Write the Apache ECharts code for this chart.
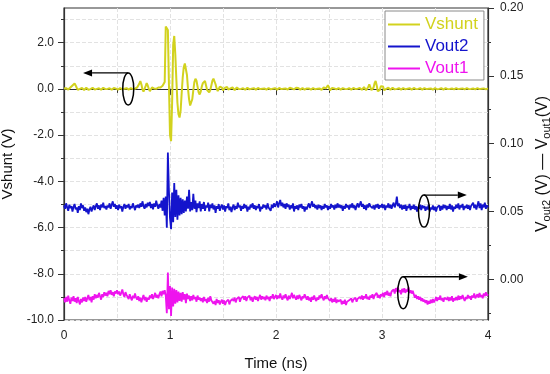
<!DOCTYPE html>
<html><head><meta charset="utf-8">
<script src="https://cdn.jsdelivr.net/npm/echarts@6/dist/echarts.min.js"></script>
<style>html,body{margin:0;padding:0;background:#fff}#c{width:550px;height:374px}</style>
</head><body><div id="c"></div>
<script>
// sampling step of the time axis (ns)
const T_STEP = 0.01;

// Vshunt (V), left axis
const vshunt = [
0.02,0.04,0.03,-0.02,-0.03,0.02,0.06,0.08,0.15,0.22,
0.24,0.15,0.05,-0.04,-0.06,0.00,0.06,0.04,-0.02,-0.05,
0.00,0.05,0.03,-0.04,-0.06,-0.01,0.04,0.05,0.01,-0.03,
-0.04,0.00,0.04,0.03,-0.02,-0.04,0.00,0.05,0.04,-0.01,
-0.03,0.00,0.04,0.03,-0.02,-0.04,-0.01,0.04,0.05,0.01,
-0.03,-0.03,0.01,0.04,0.02,-0.02,-0.03,0.01,0.04,0.03,
-0.01,-0.03,0.00,0.03,0.02,-0.01,-0.02,0.01,0.04,0.06,
0.10,0.22,0.34,0.20,-0.02,-0.12,-0.05,0.12,0.25,0.15,
0.00,-0.10,-0.06,0.06,0.10,0.02,-0.06,0.00,0.08,0.06,
0.02,0.06,0.10,0.14,0.18,0.30,2.70,2.75,2.55,0.20,
-2.00,-2.26,-0.60,1.90,2.29,1.50,0.40,-0.60,-1.10,-1.24,
-0.95,-0.20,0.50,0.95,1.10,1.13,0.60,0.00,-0.45,-0.72,
-0.76,-0.45,-0.05,0.30,0.44,0.35,0.10,-0.15,-0.24,-0.12,
0.10,0.25,0.32,0.34,0.15,-0.05,-0.12,-0.15,-0.05,0.15,
0.35,0.44,0.40,0.20,0.02,-0.10,-0.05,0.10,0.15,0.05,
-0.06,-0.05,0.05,0.12,0.08,-0.03,-0.06,0.02,0.08,0.06,
-0.02,-0.05,0.00,0.06,0.05,-0.01,-0.04,0.00,0.05,0.03,
-0.02,-0.04,0.01,0.05,0.03,-0.02,-0.04,0.01,0.04,0.03,
-0.01,-0.03,0.00,0.04,0.03,-0.01,-0.03,0.01,0.04,0.02,
-0.02,-0.03,0.01,0.04,0.02,-0.02,-0.03,0.01,0.04,0.03,
-0.01,-0.03,0.01,0.04,0.03,-0.01,-0.03,0.01,0.04,0.02,
-0.02,-0.03,0.01,0.05,0.08,0.02,-0.04,-0.02,0.03,0.05,
0.10,0.04,-0.04,-0.03,0.02,0.04,0.01,-0.03,-0.02,0.02,
0.04,0.02,-0.02,-0.03,0.01,0.04,0.02,-0.02,-0.03,0.01,
0.04,0.02,-0.02,-0.04,0.00,0.06,0.05,0.02,0.10,0.16,
0.06,-0.06,-0.05,0.04,0.08,0.02,-0.04,-0.02,0.03,0.04,
0.00,-0.03,-0.01,0.03,0.04,0.00,-0.03,-0.01,0.03,0.03,
-0.01,-0.03,0.00,0.04,0.03,-0.01,-0.03,0.01,0.05,0.04,
-0.02,-0.04,0.02,0.08,0.04,-0.06,-0.04,0.08,0.20,0.12,
-0.05,-0.10,0.05,0.25,0.34,0.15,-0.10,-0.16,-0.04,0.12,
0.20,0.10,-0.06,-0.10,0.00,0.08,0.05,-0.02,-0.04,0.02,
0.05,0.03,-0.02,-0.04,0.00,0.04,0.03,-0.01,-0.03,0.01,
0.04,0.02,-0.02,-0.03,0.01,0.04,0.03,-0.02,-0.03,0.01,
0.04,0.03,-0.01,-0.03,0.00,0.04,0.03,-0.01,-0.03,0.00,
0.03,0.03,-0.01,-0.03,0.01,0.04,0.02,-0.02,-0.03,0.01,
0.03,0.02,-0.02,-0.03,0.00,0.03,0.03,-0.01,-0.03,0.00,
0.03,0.03,-0.01,-0.03,0.00,0.03,0.02,-0.01,-0.02,0.01,
0.03,0.02,-0.01,-0.02,0.01,0.03,0.02,-0.01,-0.02,0.01,
0.03,0.02,-0.01,-0.03,0.00,0.03,0.02,-0.01,-0.02,0.01,
0.03,0.02,-0.01,-0.02,0.01,0.03,0.02,-0.01,-0.02,0.01,
0.02
];

// Vout2 (V), right axis
const vout2 = [
0.0545,0.0520,0.0560,0.0530,0.0505,0.0550,0.0525,0.0540,0.0500,0.0535,
0.0555,0.0515,0.0530,0.0490,0.0540,0.0510,0.0560,0.0525,0.0545,0.0505,
0.0530,0.0495,0.0520,0.0480,0.0515,0.0535,0.0500,0.0525,0.0545,0.0510,
0.0540,0.0560,0.0520,0.0545,0.0510,0.0550,0.0530,0.0565,0.0525,0.0540,
0.0515,0.0545,0.0530,0.0560,0.0520,0.0550,0.0575,0.0535,0.0555,0.0520,
0.0545,0.0510,0.0550,0.0525,0.0540,0.0500,0.0535,0.0555,0.0520,0.0545,
0.0530,0.0555,0.0515,0.0540,0.0525,0.0560,0.0535,0.0510,0.0545,0.0530,
0.0550,0.0525,0.0560,0.0535,0.0575,0.0540,0.0520,0.0555,0.0530,0.0565,
0.0540,0.0570,0.0525,0.0555,0.0515,0.0560,0.0535,0.0580,0.0545,0.0520,
0.0555,0.0530,0.0580,0.0505,0.0600,0.0470,0.0610,0.0380,0.0934,0.0650,
0.0450,0.0370,0.0640,0.0420,0.0710,0.0460,0.0660,0.0440,0.0620,0.0470,
0.0600,0.0480,0.0590,0.0490,0.0580,0.0500,0.0610,0.0520,0.0660,0.0500,
0.0570,0.0510,0.0630,0.0520,0.0580,0.0495,0.0560,0.0525,0.0575,0.0500,
0.0555,0.0520,0.0570,0.0505,0.0545,0.0530,0.0565,0.0500,0.0550,0.0525,
0.0560,0.0515,0.0545,0.0490,0.0540,0.0520,0.0555,0.0505,0.0535,0.0550,
0.0515,0.0545,0.0500,0.0540,0.0525,0.0560,0.0510,0.0535,0.0495,0.0530,
0.0550,0.0510,0.0540,0.0520,0.0565,0.0530,0.0545,0.0505,0.0540,0.0520,
0.0555,0.0525,0.0545,0.0500,0.0535,0.0515,0.0550,0.0530,0.0560,0.0520,
0.0545,0.0510,0.0540,0.0525,0.0555,0.0500,0.0535,0.0520,0.0550,0.0530,
0.0545,0.0515,0.0560,0.0530,0.0540,0.0505,0.0550,0.0525,0.0560,0.0535,
0.0550,0.0575,0.0530,0.0560,0.0585,0.0540,0.0565,0.0530,0.0555,0.0520,
0.0560,0.0535,0.0550,0.0515,0.0545,0.0525,0.0560,0.0500,0.0540,0.0520,
0.0545,0.0510,0.0550,0.0530,0.0555,0.0520,0.0540,0.0500,0.0535,0.0515,
0.0540,0.0560,0.0525,0.0550,0.0575,0.0535,0.0555,0.0525,0.0545,0.0515,
0.0550,0.0525,0.0545,0.0510,0.0540,0.0520,0.0555,0.0530,0.0545,0.0510,
0.0540,0.0520,0.0555,0.0530,0.0545,0.0515,0.0550,0.0525,0.0560,0.0530,
0.0550,0.0525,0.0545,0.0505,0.0540,0.0520,0.0555,0.0530,0.0545,0.0515,
0.0550,0.0530,0.0560,0.0525,0.0545,0.0510,0.0540,0.0560,0.0530,0.0550,
0.0575,0.0535,0.0555,0.0520,0.0545,0.0510,0.0550,0.0530,0.0560,0.0540,
0.0550,0.0525,0.0545,0.0515,0.0550,0.0530,0.0555,0.0520,0.0545,0.0530,
0.0555,0.0525,0.0550,0.0510,0.0545,0.0530,0.0560,0.0525,0.0550,0.0520,
0.0545,0.0565,0.0530,0.0555,0.0610,0.0540,0.0560,0.0525,0.0550,0.0515,
0.0545,0.0520,0.0550,0.0505,0.0540,0.0525,0.0555,0.0510,0.0540,0.0520,
0.0550,0.0515,0.0540,0.0500,0.0535,0.0520,0.0550,0.0510,0.0545,0.0525,
0.0540,0.0505,0.0535,0.0515,0.0550,0.0500,0.0530,0.0515,0.0545,0.0510,
0.0535,0.0500,0.0530,0.0520,0.0545,0.0505,0.0540,0.0515,0.0550,0.0525,
0.0545,0.0510,0.0540,0.0520,0.0555,0.0515,0.0545,0.0500,0.0535,0.0520,
0.0550,0.0525,0.0560,0.0515,0.0545,0.0530,0.0555,0.0510,0.0540,0.0525,
0.0550,0.0520,0.0545,0.0510,0.0540,0.0530,0.0565,0.0525,0.0550,0.0515,
0.0545,0.0575,0.0525,0.0560,0.0510,0.0550,0.0530,0.0565,0.0520,0.0545,
0.0530
];

// Vout1 (V), right axis
const vout1 = [
-0.0140,-0.0170,-0.0130,-0.0165,-0.0120,-0.0155,-0.0180,-0.0135,-0.0160,-0.0125,
-0.0165,-0.0140,-0.0175,-0.0130,-0.0160,-0.0185,-0.0145,-0.0170,-0.0135,-0.0160,
-0.0130,-0.0165,-0.0140,-0.0115,-0.0155,-0.0130,-0.0170,-0.0125,-0.0150,-0.0110,
-0.0140,-0.0115,-0.0135,-0.0100,-0.0125,-0.0150,-0.0110,-0.0130,-0.0095,-0.0120,
-0.0100,-0.0125,-0.0085,-0.0110,-0.0080,-0.0115,-0.0095,-0.0125,-0.0090,-0.0105,
-0.0080,-0.0110,-0.0090,-0.0120,-0.0100,-0.0075,-0.0110,-0.0130,-0.0095,-0.0115,
-0.0125,-0.0145,-0.0110,-0.0135,-0.0155,-0.0120,-0.0140,-0.0105,-0.0135,-0.0150,
-0.0125,-0.0160,-0.0135,-0.0170,-0.0140,-0.0115,-0.0155,-0.0130,-0.0165,-0.0135,
-0.0150,-0.0120,-0.0140,-0.0110,-0.0145,-0.0125,-0.0100,-0.0135,-0.0115,-0.0140,
-0.0110,-0.0090,-0.0125,-0.0085,-0.0110,-0.0080,-0.0120,-0.0250,0.0050,-0.0220,
-0.0050,-0.0270,-0.0060,-0.0200,-0.0070,-0.0180,-0.0080,-0.0170,-0.0090,-0.0160,
-0.0100,-0.0165,-0.0095,-0.0150,-0.0110,-0.0175,-0.0105,-0.0145,-0.0120,-0.0160,
-0.0125,-0.0155,-0.0115,-0.0145,-0.0130,-0.0165,-0.0120,-0.0150,-0.0135,-0.0160,
-0.0140,-0.0170,-0.0130,-0.0160,-0.0145,-0.0175,-0.0135,-0.0165,-0.0125,-0.0155,
-0.0150,-0.0180,-0.0160,-0.0190,-0.0145,-0.0175,-0.0155,-0.0185,-0.0165,-0.0150,
-0.0180,-0.0155,-0.0190,-0.0165,-0.0175,-0.0150,-0.0185,-0.0160,-0.0170,-0.0145,
-0.0160,-0.0135,-0.0170,-0.0145,-0.0155,-0.0130,-0.0165,-0.0140,-0.0150,-0.0125,
-0.0150,-0.0125,-0.0160,-0.0135,-0.0145,-0.0120,-0.0155,-0.0130,-0.0165,-0.0140,
-0.0125,-0.0150,-0.0130,-0.0160,-0.0135,-0.0115,-0.0150,-0.0125,-0.0145,-0.0130,
-0.0155,-0.0120,-0.0145,-0.0130,-0.0160,-0.0125,-0.0140,-0.0110,-0.0145,-0.0130,
-0.0115,-0.0145,-0.0120,-0.0140,-0.0105,-0.0135,-0.0150,-0.0120,-0.0140,-0.0110,
-0.0135,-0.0155,-0.0120,-0.0145,-0.0125,-0.0100,-0.0140,-0.0115,-0.0135,-0.0150,
-0.0120,-0.0145,-0.0115,-0.0135,-0.0155,-0.0125,-0.0140,-0.0110,-0.0130,-0.0150,
-0.0125,-0.0155,-0.0135,-0.0165,-0.0130,-0.0150,-0.0120,-0.0145,-0.0160,-0.0135,
-0.0150,-0.0120,-0.0140,-0.0110,-0.0135,-0.0155,-0.0125,-0.0145,-0.0115,-0.0140,
-0.0130,-0.0160,-0.0140,-0.0170,-0.0145,-0.0165,-0.0135,-0.0175,-0.0150,-0.0165,
-0.0175,-0.0150,-0.0185,-0.0160,-0.0180,-0.0150,-0.0190,-0.0165,-0.0175,-0.0155,
-0.0165,-0.0140,-0.0170,-0.0150,-0.0160,-0.0135,-0.0165,-0.0145,-0.0155,-0.0130,
-0.0145,-0.0120,-0.0150,-0.0125,-0.0140,-0.0110,-0.0145,-0.0130,-0.0150,-0.0120,
-0.0135,-0.0110,-0.0145,-0.0120,-0.0130,-0.0100,-0.0135,-0.0115,-0.0140,-0.0110,
-0.0125,-0.0100,-0.0130,-0.0095,-0.0115,-0.0085,-0.0120,-0.0100,-0.0125,-0.0090,
-0.0100,-0.0075,-0.0105,-0.0065,-0.0090,-0.0060,-0.0095,-0.0080,-0.0110,-0.0070,
-0.0095,-0.0065,-0.0100,-0.0075,-0.0090,-0.0060,-0.0100,-0.0080,-0.0105,-0.0085,
-0.0110,-0.0135,-0.0115,-0.0145,-0.0125,-0.0150,-0.0130,-0.0160,-0.0140,-0.0165,
-0.0150,-0.0175,-0.0155,-0.0185,-0.0160,-0.0180,-0.0150,-0.0175,-0.0145,-0.0170,
-0.0155,-0.0130,-0.0160,-0.0135,-0.0150,-0.0120,-0.0155,-0.0140,-0.0165,-0.0135,
-0.0125,-0.0150,-0.0130,-0.0160,-0.0135,-0.0155,-0.0125,-0.0165,-0.0140,-0.0155,
-0.0130,-0.0155,-0.0120,-0.0150,-0.0125,-0.0145,-0.0115,-0.0140,-0.0160,-0.0130,
-0.0145,-0.0115,-0.0140,-0.0125,-0.0150,-0.0120,-0.0135,-0.0105,-0.0140,-0.0125,
-0.0110,-0.0135,-0.0100,-0.0130,-0.0115,-0.0140,-0.0105,-0.0125,-0.0095,-0.0120,
-0.0110
];

// tick values
const xLabels = [0, 1, 2, 3, 4];
const xMinor = [0, 0.5, 1, 1.5, 2, 2.5, 3, 3.5, 4];
const leftLabels = [-10, -8, -6, -4, -2, 0, 2];
const leftMinor = [-10, -9, -8, -7, -6, -5, -4, -3, -2, -1, 0, 1, 2, 3];
const rightLabels = [0, 0.05, 0.10, 0.15, 0.20];
const rightMinor = [-0.025, 0, 0.025, 0.05, 0.075, 0.1, 0.125, 0.15, 0.175, 0.2];

const seriesNames = ['Vshunt', 'Vout2', 'Vout1'];
const seriesColors = ['#d2d21e', '#1414cc', '#ee14ee'];

// annotation anchors (data coordinates)
const annotations = [
  { t: 0.606, v: 0.0, yAxis: 0, tipT: 0.18 },
  { t: 3.396, v: 0.0503, yAxis: 2, tipT: 3.80 },
  { t: 3.20, v: -0.0099, yAxis: 2, tipT: 3.81 }
];

function pairs(arr) { return arr.map((v, i) => [+(i * T_STEP).toFixed(2), v]); }

const FONT = '"Liberation Sans", Arial, sans-serif';
const chart = echarts.init(document.getElementById('c'), null, { renderer: 'canvas' });
const gridSplit = { show: true, lineStyle: { color: '#e2e2e2', type: [4, 2], width: 1 } };
const axisLineStyle = { show: true, lineStyle: { color: '#333', width: 1.2 } };

chart.setOption({
  animation: false,
  backgroundColor: '#fff',
  textStyle: { fontFamily: FONT },
  grid: { left: 64, right: 62, top: 8, bottom: 54, containLabel: false, outerBoundsMode: 'none',
          show: true, borderColor: '#333', borderWidth: 1.2, backgroundColor: 'transparent' },
  legend: {
    orient: 'vertical', left: 385, top: 11,
    padding: [5, 6, 3, 3], itemGap: 5, itemWidth: 32, itemHeight: 2, icon: 'rect',
    backgroundColor: '#fff', borderColor: '#8a8a8a', borderWidth: 1, borderRadius: 0,
    textStyle: { fontSize: 17, fontFamily: FONT },
    data: seriesNames.map((n, i) => ({ name: n, textStyle: { color: seriesColors[i] } }))
  },
  xAxis: [
    {
      type: 'value', min: 0, max: 4, interval: 0.5, position: 'bottom',
      name: 'Time (ns)', nameLocation: 'middle', nameGap: 36,
      nameTextStyle: { fontSize: 15, color: '#111', fontFamily: FONT },
      axisLine: axisLineStyle,
      axisTick: { show: true, inside: false, length: 4, lineStyle: { color: '#333' }, customValues: xMinor },
      axisLabel: { customValues: xLabels, margin: 10, fontSize: 12, color: '#222', fontFamily: FONT, formatter: v => String(v) },
      splitLine: gridSplit
    },
    {
      type: 'value', min: 0, max: 4, interval: 1, position: 'bottom',
      axisLine: { show: false },
      axisTick: { show: true, length: 6, lineStyle: { color: '#333' }, customValues: xLabels },
      axisLabel: { show: false }, splitLine: { show: false }
    }
  ],
  yAxis: [
    {
      type: 'value', min: -10, max: 3.5, interval: 1, position: 'left',
      name: 'Vshunt (V)', nameLocation: 'middle', nameGap: 39, nameRotate: 90,
      nameTextStyle: { fontSize: 15, color: '#111', fontFamily: FONT },
      axisLine: axisLineStyle,
      axisTick: { show: true, length: 3, lineStyle: { color: '#333' }, customValues: leftMinor },
      axisLabel: { customValues: leftLabels, margin: 10, fontSize: 12, color: '#222', fontFamily: FONT, formatter: v => v.toFixed(1) },
      splitLine: gridSplit
    },
    {
      type: 'value', min: -10, max: 3.5, interval: 2, position: 'left',
      axisLine: { show: false },
      axisTick: { show: true, length: 6, lineStyle: { color: '#333' }, customValues: leftLabels },
      axisLabel: { show: false }, splitLine: { show: false }
    },
    {
      type: 'value', min: -0.03, max: 0.2, position: 'right',
      name: '{a|V}{s|out2}{a| (V) \u2014 V}{s|out1}{a|(V)}', nameLocation: 'middle', nameGap: 38, nameRotate: 90,
      nameTextStyle: {
        color: '#111', fontFamily: FONT,
        rich: {
          a: { fontSize: 16, lineHeight: 20, color: '#111', fontFamily: FONT, verticalAlign: 'middle' },
          s: { fontSize: 11, lineHeight: 11, color: '#111', fontFamily: FONT, verticalAlign: 'bottom' }
        }
      },
      axisLine: axisLineStyle,
      axisTick: { show: true, length: 3, lineStyle: { color: '#333' }, customValues: rightMinor },
      axisLabel: { customValues: rightLabels, margin: 12, fontSize: 12, color: '#222', fontFamily: FONT, formatter: v => v.toFixed(2) },
      splitLine: { show: false }
    },
    {
      type: 'value', min: -0.03, max: 0.2, position: 'right',
      axisLine: { show: false },
      axisTick: { show: true, length: 6, lineStyle: { color: '#333' }, customValues: rightLabels },
      axisLabel: { show: false }, splitLine: { show: false }
    }
  ],
  series: [
    { name: seriesNames[0], type: 'line', xAxisIndex: 0, yAxisIndex: 0, data: pairs(vshunt), symbol: 'none', z: 4,
      color: seriesColors[0], lineStyle: { color: seriesColors[0], width: 2 } },
    { name: seriesNames[1], type: 'line', xAxisIndex: 0, yAxisIndex: 2, data: pairs(vout2), symbol: 'none', z: 3,
      color: seriesColors[1], lineStyle: { color: seriesColors[1], width: 1.8 } },
    { name: seriesNames[2], type: 'line', xAxisIndex: 0, yAxisIndex: 2, data: pairs(vout1), symbol: 'none', z: 3,
      color: seriesColors[2], lineStyle: { color: seriesColors[2], width: 1.8 } }
  ]
});

// annotations: ellipse round the trace with an arrow to the axis it belongs to
const RX = 5.5, RY = 16, HEAD = 9, HALF = 3.5;
const elements = [];
annotations.forEach(a => {
  const c = chart.convertToPixel({ xAxisIndex: 0, yAxisIndex: a.yAxis }, [a.t, a.v]);
  const tip = chart.convertToPixel({ xAxisIndex: 0, yAxisIndex: a.yAxis }, [a.tipT, a.v]);
  const y = c[1] - RY;
  const dir = tip[0] > c[0] ? 1 : -1;
  const base = tip[0] - dir * HEAD;
  elements.push({ type: 'ellipse', shape: { cx: c[0], cy: c[1], rx: RX, ry: RY }, style: { fill: null, stroke: '#000', lineWidth: 1.5 }, z: 100 });
  elements.push({ type: 'line', shape: { x1: c[0], y1: y, x2: base, y2: y }, style: { stroke: '#000', lineWidth: 1.3 }, z: 100 });
  elements.push({ type: 'polygon', shape: { points: [[tip[0], y], [base, y - HALF], [base, y + HALF]] }, style: { fill: '#000' }, z: 100 });
});
chart.setOption({ graphic: { elements } });
</script>
</body></html>
